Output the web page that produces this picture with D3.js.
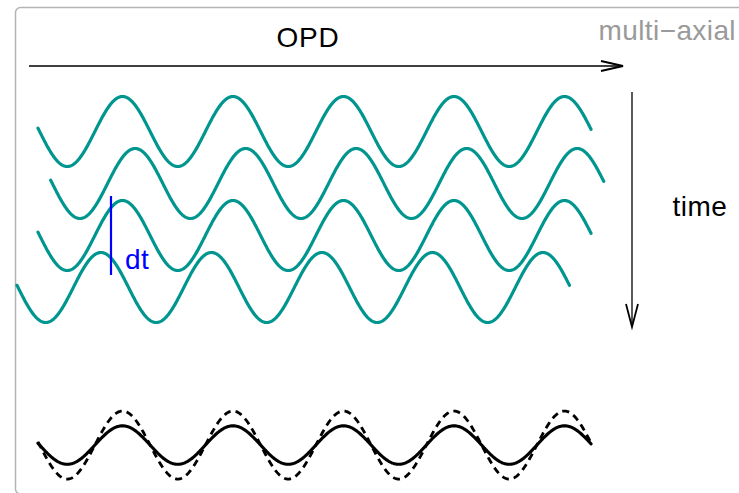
<!DOCTYPE html>
<html>
<head>
<meta charset="utf-8">
<script src="https://cdn.jsdelivr.net/npm/d3@7"></script>
<style>
  html, body { margin: 0; padding: 0; background: #fff; }
  svg { display: block; }
  text { font-family: "Liberation Sans", Arial, Helvetica, sans-serif; }
</style>
</head>
<body>
<svg id="chart" width="739" height="493"></svg>
<script>
// Fringe traces recorded at successive times (one row per time step)
const waveTimes   = [0, 1, 2, 3];
const wavePhases  = [0, 0.115, 0, -0.195];   // fringe shift, in periods
const waveStarts  = [0.235, 0.35, 0.235, 0.045]; // OPD where each trace begins
const waveEnds    = [5.24, 5.355, 5.24, 5.045];  // OPD where each trace ends
const waveAmplitude = 0.673;

// Combined signal drawn at the bottom
const sumTime = 6.03;
const sumStart = 0.235;
const sumEnd = 5.24;
const sumAmplitudes = [0.37, 0.654];   // averaged (solid), single fringe (dashed)
const sumStyles = ["solid", "dashed"];

const labels = { opd: "OPD", time: "time", mode: "multi\u2212axial", dt: "dt" };

const svg = d3.select("#chart");

// OPD in fringe periods, time in trace steps
const x = d3.scaleLinear().domain([0, 6]).range([12, 675]);
const y = d3.scaleLinear().domain([0, 1]).range([131.5, 183.5]);
const ampPx = a => y(a) - y(0);

const teal = "#00968f";

// outer rounded frame
svg.append("rect")
  .attr("x", 15.5).attr("y", 7.5)
  .attr("width", 760).attr("height", 486.5)
  .attr("rx", 5).attr("ry", 5)
  .attr("fill", "none")
  .attr("stroke", "#b4b4b4")
  .attr("stroke-width", 1.5);

const line = d3.line().x(d => x(d[0])).y(d => d[1]);

function trace(start, end, phase, time, amp) {
  const pts = d3.range(start, end, 0.005).concat([end]);
  return pts.map(u => [u, y(time) - ampPx(amp) * Math.cos(2 * Math.PI * (u - phase))]);
}

// teal fringe traces
svg.append("g").selectAll("path")
  .data(waveTimes.map((t, i) => trace(waveStarts[i], waveEnds[i], wavePhases[i], t, waveAmplitude)))
  .join("path")
  .attr("d", line)
  .attr("fill", "none")
  .attr("stroke", teal)
  .attr("stroke-width", 3.2)
  .attr("stroke-linecap", "round")
  .attr("stroke-linejoin", "round");

// combined signal: dashed single fringe and solid averaged fringe
svg.append("g").selectAll("path")
  .data(sumAmplitudes.map((a, i) => ({ pts: trace(sumStart, sumEnd, 0, sumTime, a), style: sumStyles[i] })).reverse())
  .join("path")
  .attr("d", d => line(d.pts))
  .attr("fill", "none")
  .attr("stroke", "#000")
  .attr("stroke-width", d => d.style === "dashed" ? 2.8 : 3.1)
  .attr("stroke-dasharray", d => d.style === "dashed" ? "7,5" : null)
  .attr("stroke-linecap", d => d.style === "dashed" ? "butt" : "round");

// OPD axis arrow
const arrows = svg.append("g").attr("stroke", "#000").attr("fill", "none");
arrows.append("line").attr("x1", 29).attr("y1", 66).attr("x2", 623).attr("y2", 66).attr("stroke-width", 1.3);
arrows.append("path").attr("d", "M601,61 L623,66 L601,71").attr("stroke-width", 1.8);

// time axis arrow
arrows.append("line").attr("x1", 632).attr("y1", 92).attr("x2", 632).attr("y2", 327).attr("stroke-width", 1.3);
arrows.append("path").attr("d", "M626,304 L632,327 L638,304").attr("stroke-width", 1.8);

// dt marker
svg.append("line")
  .attr("x1", 111).attr("y1", 196).attr("x2", 111).attr("y2", 275)
  .attr("stroke", "#0000ff").attr("stroke-width", 2.2);

svg.append("text").attr("x", 308).attr("y", 47)
  .attr("text-anchor", "middle").attr("font-size", 28).attr("letter-spacing", 0.8)
  .attr("fill", "#000").text(labels.opd);

svg.append("text").attr("x", 736).attr("y", 40)
  .attr("text-anchor", "end").attr("font-size", 28).attr("letter-spacing", 0.4)
  .attr("fill", "#9a9a9a").text(labels.mode);

svg.append("text").attr("x", 700).attr("y", 216)
  .attr("text-anchor", "middle").attr("font-size", 28).attr("letter-spacing", 0.5)
  .attr("fill", "#000").text(labels.time);

svg.append("text").attr("x", 125).attr("y", 269)
  .attr("text-anchor", "start").attr("font-size", 28).attr("letter-spacing", 0.5)
  .attr("fill", "#0000ff").text(labels.dt);
</script>
</body>
</html>
